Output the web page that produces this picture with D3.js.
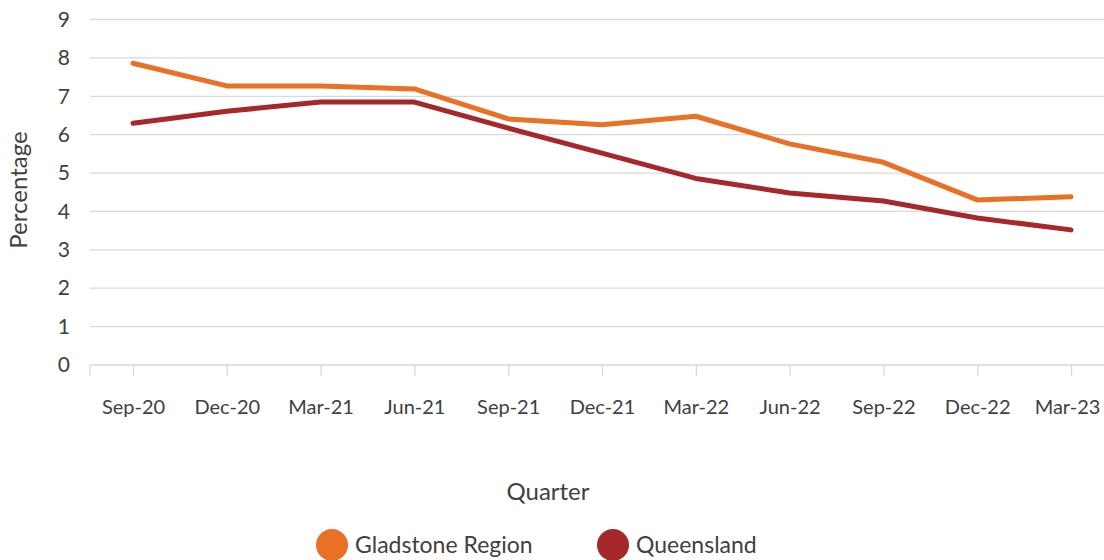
<!DOCTYPE html>
<html>
<head>
<meta charset="utf-8">
<script src="https://cdn.jsdelivr.net/npm/d3@7"></script>
<style>
  body { margin: 0; background: #fff; }
  text { font-family: "Source Sans Pro", Lato, "Noto Sans", sans-serif; fill: #404040; }
</style>
</head>
<body>
<div id="chart"></div>
<script>
// data
var quarters = ["Sep-20", "Dec-20", "Mar-21", "Jun-21", "Sep-21", "Dec-21", "Mar-22", "Jun-22", "Sep-22", "Dec-22", "Mar-23"];
var gladstone = [7.86, 7.27, 7.27, 7.19, 6.41, 6.26, 6.48, 5.76, 5.28, 4.30, 4.38];
var queensland = [6.30, 6.61, 6.85, 6.85, 6.17, 5.52, 4.86, 4.48, 4.27, 3.83, 3.52];
var yTicks = [0, 1, 2, 3, 4, 5, 6, 7, 8, 9];
var seriesNames = ["Gladstone Region", "Queensland"];
var seriesColors = ["#E97025", "#A6282B"];

var svgWidth = 1104;
var svgHeight = 560;

var svg = d3.select("#chart")
    .append("svg")
    .attr("width", svgWidth)
    .attr("height", svgHeight);

// plot area
var plotLeft = 90, plotRight = 1104, plotTop = 19.5, plotBottom = 365;

var xScale = d3.scalePoint()
    .domain(quarters)
    .range([133, 1071]);

var yScale = d3.scaleLinear()
    .domain([0, 9])
    .range([plotBottom, plotTop]);

// gridlines
svg.append("g")
    .selectAll("line")
    .data(yTicks.filter(d => d > 0))
    .enter()
    .append("line")
    .attr("x1", plotLeft)
    .attr("x2", plotRight)
    .attr("y1", d => yScale(d))
    .attr("y2", d => yScale(d))
    .attr("stroke", "#d9d9d9")
    .attr("stroke-width", 1.3);

// y axis labels
var leftAxis = d3.axisLeft(yScale).tickValues(yTicks).tickSize(0).tickPadding(0);
var yAxisG = svg.append("g")
    .attr("transform", `translate(70, 0)`)
    .call(leftAxis);
yAxisG.select(".domain").remove();
yAxisG.selectAll("text")
    .style("font-size", "21px")
    .attr("fill", "#404040");

// x axis
var bottomAxis = d3.axisBottom(xScale).tickSize(11).tickPadding(24);
var xAxisG = svg.append("g")
    .attr("transform", `translate(0, ${plotBottom})`)
    .call(bottomAxis);
xAxisG.select(".domain")
    .attr("d", `M${plotLeft},0H${plotRight}`)
    .attr("stroke", "#d9d9d9")
    .attr("stroke-width", 1.3);
xAxisG.selectAll(".tick line")
    .attr("stroke", "#d9d9d9")
    .attr("stroke-width", 1.3);
xAxisG.append("line")
    .attr("x1", plotLeft).attr("x2", plotLeft)
    .attr("y1", 0).attr("y2", 11)
    .attr("stroke", "#d9d9d9")
    .attr("stroke-width", 1.3);
xAxisG.selectAll("text")
    .style("font-size", "20px")
    .attr("fill", "#404040");
// last label sits flush with the right edge
xAxisG.selectAll(".tick text")
    .filter(d => d === quarters[quarters.length - 1])
    .attr("dx", -4);

// lines
var line = d3.line()
    .x((d, i) => xScale(quarters[i]))
    .y(d => yScale(d));

[gladstone, queensland].forEach(function(values, k) {
    svg.append("path")
        .datum(values)
        .attr("d", line)
        .attr("fill", "none")
        .attr("stroke", seriesColors[k])
        .attr("stroke-width", 5)
        .attr("stroke-linejoin", "round")
        .attr("stroke-linecap", "round");
});

// axis titles
svg.append("text")
    .attr("transform", "translate(27, 190) rotate(-90)")
    .attr("text-anchor", "middle")
    .style("font-size", "24px")
    .text("Percentage");

svg.append("text")
    .attr("x", 548)
    .attr("y", 500)
    .attr("text-anchor", "middle")
    .style("font-size", "24px")
    .text("Quarter");

// legend
var legendX = [332, 613];
var legend = svg.selectAll(".legend")
    .data(seriesNames)
    .enter()
    .append("g")
    .attr("transform", (d, i) => `translate(${legendX[i]}, 545)`);
legend.append("circle")
    .attr("r", 16)
    .attr("fill", (d, i) => seriesColors[i]);
legend.append("text")
    .attr("x", 23)
    .attr("y", 8)
    .style("font-size", "23px")
    .text(d => d);
</script>
</body>
</html>
